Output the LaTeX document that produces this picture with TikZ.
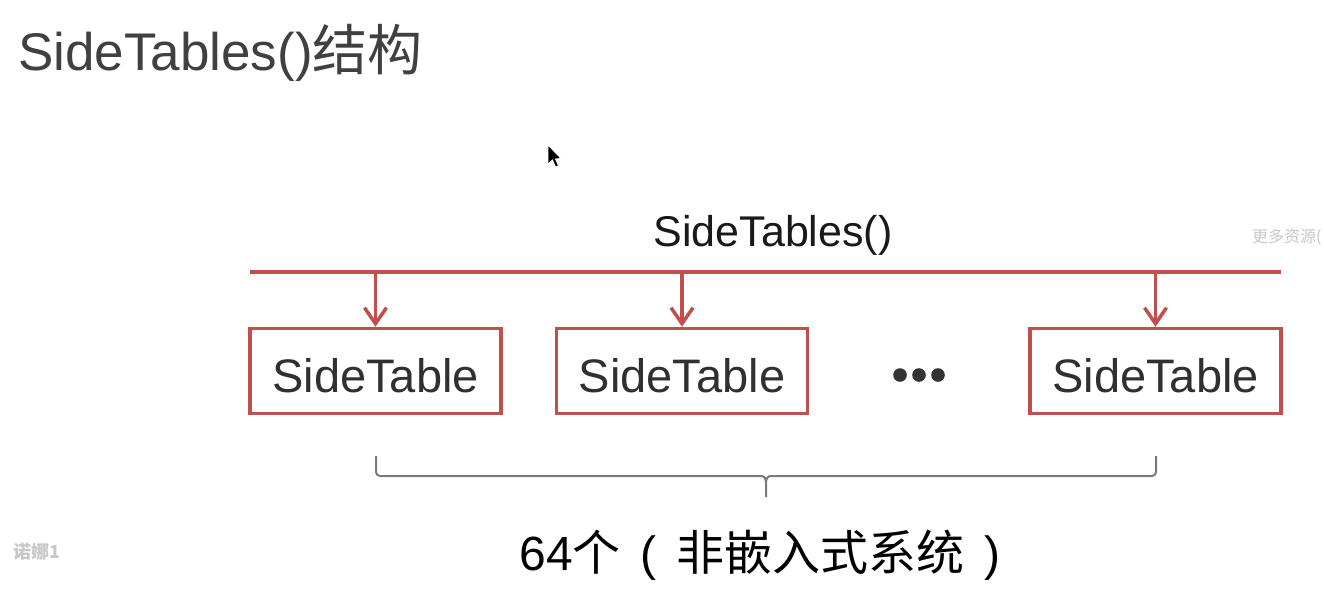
\documentclass[tikz,border=0pt]{standalone}
\usepackage{fontspec}
\setmainfont{Liberation Sans}
\newfontfamily\cjk{Noto Sans CJK SC}
\usetikzlibrary{arrows.meta,calc}
\definecolor{ored}{HTML}{C0504D}
\definecolor{ttl}{HTML}{404040}
\definecolor{boxtxt}{HTML}{303030}
\definecolor{brc}{HTML}{7A7A7A}
\definecolor{wm}{HTML}{C8C8C8}
\begin{document}
\begin{tikzpicture}[x=1pt,y=-1pt,
  tablebox/.style={draw=ored,line width=3.5pt,minimum width=251pt,minimum height=85pt,
    inner sep=0pt,text height=42pt,text depth=0pt,text=boxtxt,font=\fontsize{47}{50}\selectfont},
  arr/.style={draw=ored,line width=3.5pt,-{Straight Barb[length=16pt,width=22pt,line width=3.5pt]}},
  bracepath/.style={draw=brc,line width=2pt,line join=round}]
\useasboundingbox (0,0) rectangle (1324,606);
\fill[white] (0,0) rectangle (1324,606);
% title
\node[anchor=base west,inner sep=0pt,text=ttl,font=\fontsize{53}{56}\selectfont] (title) at (18,70) {SideTables(){\cjk\fontsize{55}{56}\selectfont 结构}};
% bar
\coordinate (barL) at (250,272);
\coordinate (barR) at (1281,272);
\draw[ored,line width=4pt] (barL) -- (barR);
\node[anchor=base,inner sep=0pt,font=\fontsize{43}{46}\selectfont,text=black!90] (lbl) at (773,246) {SideTables()};
% boxes
\node[tablebox] (b1) at (375.5,371) {SideTable};
\node[tablebox] (b2) at (682,371) {SideTable};
\node[tablebox] (b3) at (1155.5,371) {SideTable};
\draw[arr] (b1.north |- barL) -- (b1.north);
\draw[arr] (b2.north |- barL) -- (b2.north);
\draw[arr] (b3.north |- barL) -- (b3.north);
% dots
\coordinate (dots) at (919,375);
\foreach \dx in {-19,0,19} \fill[black!80] ($(dots)+(\dx,0)$) circle (6.8pt);
% brace
\coordinate (brL) at (376,456);
\coordinate (brR) at (1156,456);
\coordinate (brT) at (766,497);
\draw[bracepath,rounded corners=4pt] (brL) -- (376,476) -- (761,476);
\draw[bracepath,rounded corners=4pt] (brR) -- (1156,476) -- (771,476);
\draw[bracepath] (761,476) .. controls (765,476) and (766,479) .. (766,484) -- (brT);
\draw[bracepath] (771,476) .. controls (767,476) and (766,479) .. (766,484);
\node[anchor=base,inner sep=0pt,font=\fontsize{48}{50}\selectfont,text=black] (cnt) at (760,570) {64{\cjk 个}\hspace{20pt}(\hspace{20pt}{\cjk 非嵌入式系统}\hspace{20pt})};
% watermarks
\node[anchor=base west,inner sep=0pt,text=wm,font=\cjk\fontsize{16}{18}\selectfont] (wm1) at (1252,242) {更多资源(};
\node[anchor=base west,inner sep=0pt,text=wm,font=\cjk\bfseries\fontsize{18}{20}\selectfont] (wm2) at (13,558) {诺娜1};
% cursor
\filldraw[fill=black,draw=white,line width=0.8pt] (548,145) -- (548,164) -- (552.5,160) -- (555.5,167) -- (558.5,165.8) -- (555.5,159) -- (561,158.5) -- cycle;
\end{tikzpicture}
\end{document}
